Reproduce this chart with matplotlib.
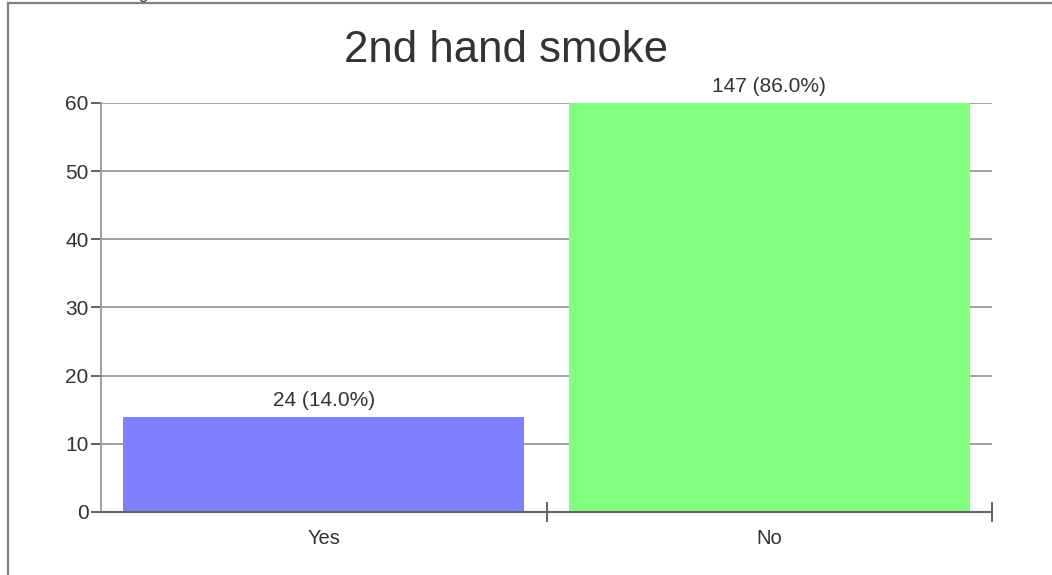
import matplotlib
matplotlib.use("Agg")
import matplotlib.pyplot as plt
from matplotlib.lines import Line2D

categories = ['Yes', 'No']
counts = [24, 147]
percents = [14.0, 86.0]
bar_colors = ['#8080ff', '#80ff80']
y_ticks = [0, 10, 20, 30, 40, 50, 60]

plt.rcParams['font.family'] = ['Liberation Sans', 'DejaVu Sans']

fig = plt.figure(figsize=(10.52, 5.75), dpi=100)
ax = fig.add_axes([0.096, 0.1096, 0.847, 0.7113])

x = list(range(len(categories)))
ax.bar(x, percents, width=0.9, color=bar_colors, zorder=3)
ax.set_xlim(-0.5, len(categories) - 0.5)
ax.set_ylim(0, 60)

# value labels: count (percent), sitting on top of the visible bar
for i in x:
    top = min(percents[i], 60)
    ax.annotate('{} ({:.1f}%)'.format(counts[i], percents[i]), (i, top),
                xytext=(0, 5), textcoords='offset points', ha='center', va='bottom',
                fontsize=15, color='#333333')

ax.set_yticks(y_ticks)
ax.yaxis.grid(True, color='#999999', linewidth=1.3, zorder=0)
ax.tick_params(axis='y', length=7, width=1.3, color='#555555', labelsize=15,
               labelcolor='#333333', pad=2)

ax.set_xticks(x)
ax.set_xticklabels(categories)
ax.tick_params(axis='x', which='major', length=0, labelsize=14.5, labelcolor='#333333', pad=12)
ax.set_xticks([i + 0.5 for i in x], minor=True)
ax.tick_params(axis='x', which='minor', direction='inout', length=14, width=1.3, color='#555555')

for s in ['top', 'right']:
    ax.spines[s].set_visible(False)
ax.spines['left'].set_color('#999999')
ax.spines['left'].set_linewidth(1.3)
ax.spines['bottom'].set_color('#666666')
ax.spines['bottom'].set_linewidth(1.5)
ax.spines['bottom'].set_zorder(4)

fig.text(506 / 1052, 1 - 50 / 575, '2nd hand smoke', ha='center', va='center',
         fontsize=31.5, color='#333333')

# page frame (top and left edge) and the cut-off text above it
fig.add_artist(Line2D([8 / 1052, 1], [1 - 3 / 575, 1 - 3 / 575], color='#808080', linewidth=1.6))
fig.add_artist(Line2D([8 / 1052, 8 / 1052], [0, 1 - 3 / 575], color='#808080', linewidth=1.6))
fig.text(143 / 1052, 1 + 1 / 575, 'g', ha='center', va='baseline', fontsize=12, color='#333333')

fig.savefig('out.png', dpi=100)
